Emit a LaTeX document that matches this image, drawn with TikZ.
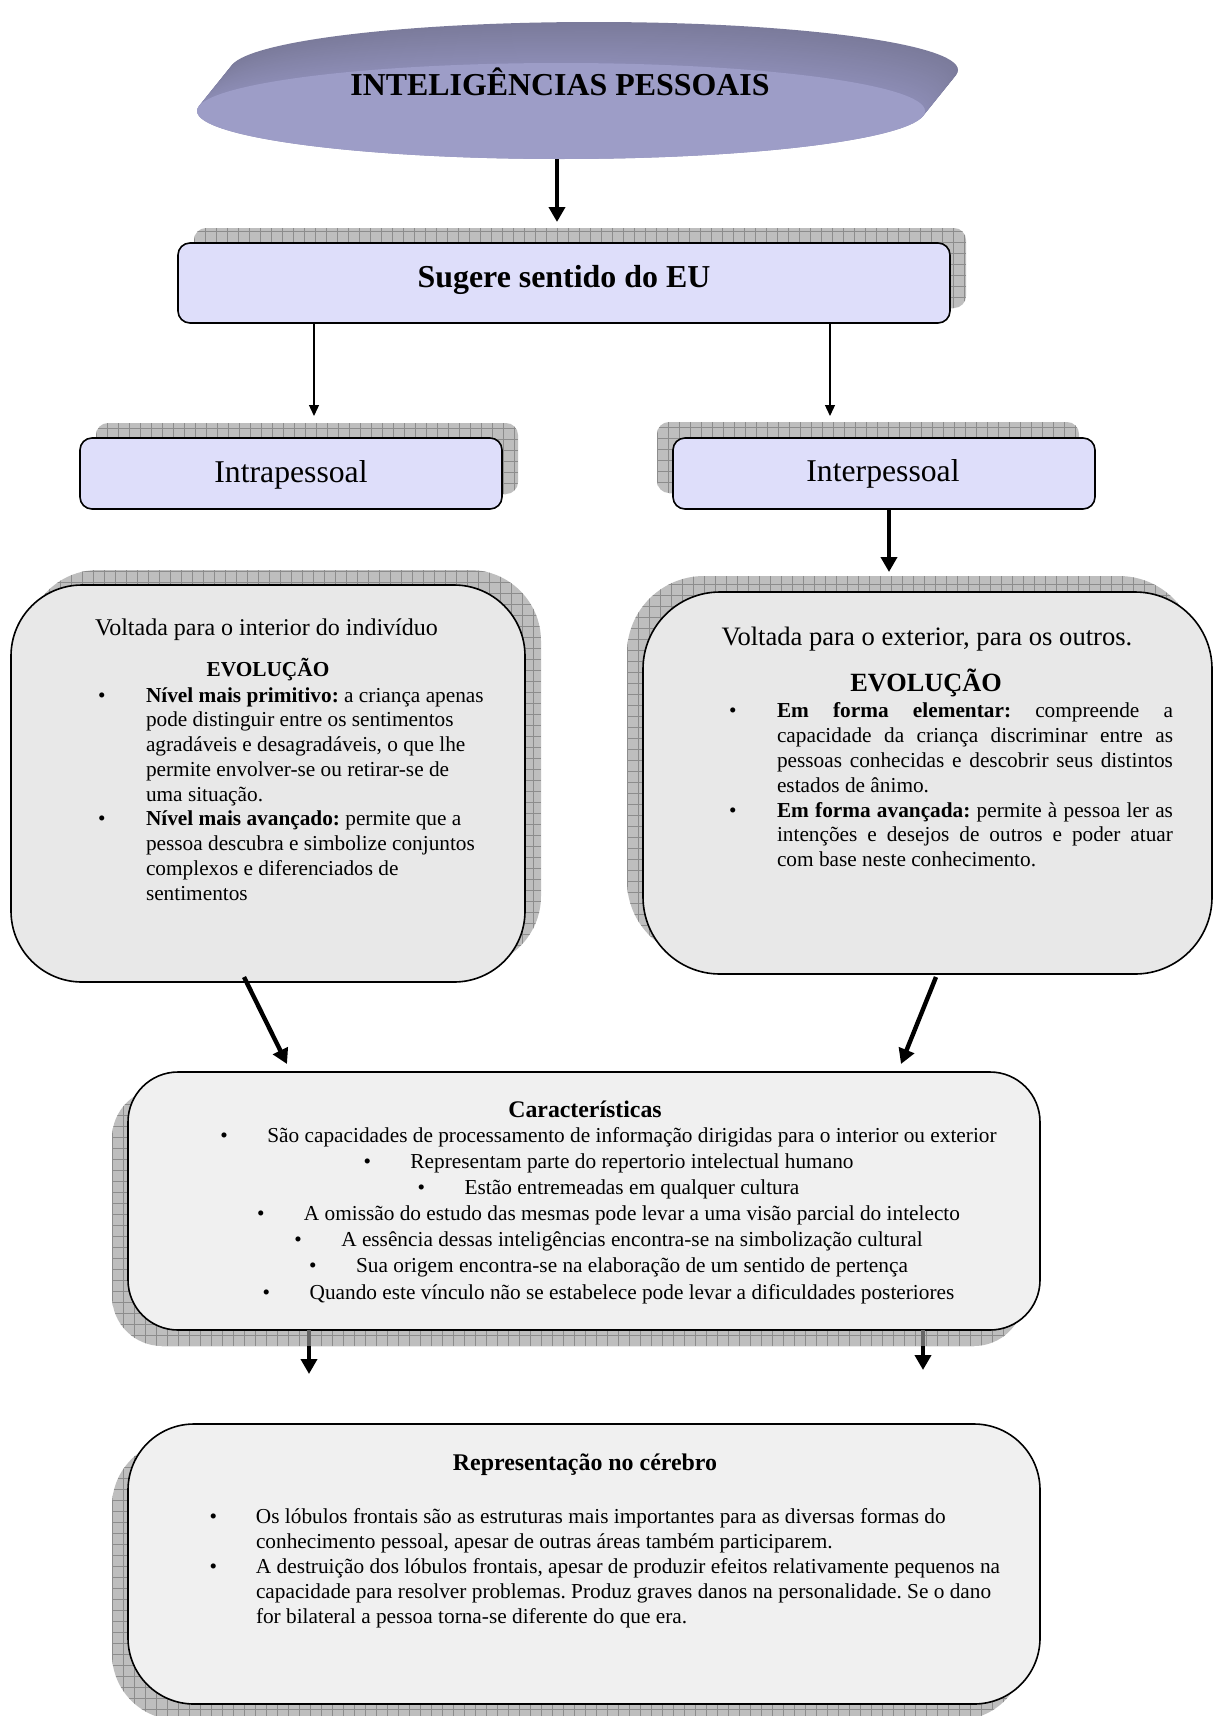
\documentclass[tikz,border=0pt]{standalone}
\usepackage{fontspec}
\setmainfont{Liberation Serif}
\usetikzlibrary{arrows.meta,shapes.geometric,calc}

\definecolor{lav}{HTML}{DEDEFA}
\definecolor{panelA}{HTML}{E8E8E8}
\definecolor{panelB}{HTML}{F0F0F0}
\definecolor{shadegray}{HTML}{BEBEBE}
\definecolor{shadeline}{HTML}{8C8C8C}
\definecolor{discface}{HTML}{9D9DC7}
\definecolor{discback}{HTML}{7B7B9B}
\definecolor{discside}{HTML}{8C8CB4}

\newcommand{\fs}[2]{\fontsize{#1}{#2}\selectfont}
\newcommand{\bul}[1]{\leavevmode\llap{\hbox to #1{\textbullet\hfil}}}
% plain interword spacing inside aligned nodes
\newcommand{\plainsp}{\spaceskip=0pt\xspaceskip=0pt\frenchspacing}
% centred lines whose word spaces keep their natural width
\newcommand{\fillcentre}{\leftskip=0pt plus 1fil\rightskip=0pt plus 1fil\parfillskip=0pt}

\tikzset{
  every node/.style={inner sep=0pt, outer sep=0pt},
  gridshadow/.style={fill=shadegray, draw=none,
    path picture={
      \foreach \k in {0,...,90}{
        \draw[shadeline, line width=0.8pt]
          ([xshift=\k*11pt]path picture bounding box.south west) --
          ([xshift=\k*11pt]path picture bounding box.north west);
      }
      \foreach \k in {0,...,40}{
        \draw[shadeline, line width=0.8pt]
          ([yshift=\k*11pt]path picture bounding box.south west) --
          ([yshift=\k*11pt]path picture bounding box.south east);
      }
    }},
  labelbox/.style={draw=black, line width=1.6pt, fill=lav, rounded corners=12pt},
  panel/.style={draw=black, line width=1.6pt},
  thickarrow/.style={line width=4.4pt, -{Triangle[length=15pt,width=16pt]}},
  thinarrow/.style={line width=1.3pt, -{Triangle[length=11pt,width=10pt]}},
}

\begin{document}
\frenchspacing
\begin{tikzpicture}[x=1pt, y=-1pt]
\fill[white] (0,0) rectangle (1215,1716);
\useasboundingbox (0,0) rectangle (1215,1716);

% ---- title disc: extruded rim, then the face ----
\foreach \t in {0,0.025,...,1.0}{
  \pgfmathsetmacro\pc{100*\t}
  \fill[discside!\pc!discback] ($(594,70)!\t!(561,111)$) ellipse [x radius=364pt, y radius=48pt];
}
\node[ellipse, fill=discface, minimum width=728pt, minimum height=96pt] (title) at (561,111) {};
\node[anchor=base, font={\fs{31.9}{38}\bfseries}] (titleT) at (560,95.5) {INTELIGÊNCIAS PESSOAIS};

% ---- shadows ----
\node[gridshadow, rounded corners=12pt, minimum width=772pt, minimum height=80pt] (sugS) at (580,268) {};
\node[gridshadow, rounded corners=12pt, minimum width=422pt, minimum height=71pt] (intraS) at (307,458.5) {};
\node[gridshadow, rounded corners=12pt, minimum width=422pt, minimum height=71pt] (interS) at (868,457.5) {};
\node[gridshadow, rounded corners=71pt, minimum width=514pt, minimum height=397pt] (lboxS) at (284,768.5) {};
\node[gridshadow, rounded corners=77pt, minimum width=569pt, minimum height=382pt] (rboxS) at (911.5,767) {};
\node[gridshadow, rounded corners=50pt, minimum width=912pt, minimum height=258pt] (cboxS) at (568,1217) {};
\node[gridshadow, rounded corners=66pt, minimum width=912pt, minimum height=280pt] (pboxS) at (568,1580) {};

% ---- boxes ----
\node[labelbox, minimum width=772pt, minimum height=80pt] (sug) at (564,283) {};
\node[labelbox, minimum width=422pt, minimum height=71pt] (intra) at (291,473.5) {};
\node[labelbox, minimum width=422pt, minimum height=71pt] (inter) at (884,473.5) {};
\node[panel, fill=panelA, rounded corners=71pt, minimum width=514pt, minimum height=397pt] (lbox) at (268,783.5) {};
\node[panel, fill=panelA, rounded corners=77pt, minimum width=569pt, minimum height=382pt] (rbox) at (927.5,783) {};
\node[panel, fill=panelB, rounded corners=50pt, minimum width=912pt, minimum height=258pt] (cbox) at (584,1201) {};
\node[panel, fill=panelB, rounded corners=66pt, minimum width=912pt, minimum height=280pt] (pbox) at (584,1564) {};

% ---- labels ----
\node[anchor=base, font={\fs{31.9}{38}\bfseries}] (sugT) at (564,287.5) {Sugere sentido do EU};
\node[anchor=base, font={\fs{31.7}{38}}] (intraT) at (291,482.5) {Intrapessoal};
\node[anchor=base, font={\fs{31.7}{38}}] (interT) at (883,481.5) {Interpessoal};

% left panel
\node[anchor=base west, font={\fs{24}{28}}] (lboxA) at (95,635) {Voltada para o interior do indivíduo};
\node[anchor=base, font={\fs{21.3}{25}\bfseries}] (lboxB) at (268,676) {EVOLUÇÃO};
\node[anchor=north west, text width=380pt, align=left, font={\fs{21.3}{24.75}}] (lboxL) at (146,684.7) {%
\plainsp\strut\bul{48pt}\textbf{Nível mais primitivo:} a criança apenas\\
pode distinguir entre os sentimentos\\
agradáveis e desagradáveis, o que lhe\\
permite envolver-se ou retirar-se de\\
uma situação.\\
\bul{48pt}\textbf{Nível mais avançado:} permite que a\\
pessoa descubra e simbolize conjuntos\\
complexos e diferenciados de\\
sentimentos\par};

% right panel
\node[anchor=base, font={\fs{26.6}{31}}] (rboxA) at (927,645) {Voltada para o exterior, para os outros.};
\node[anchor=base, font={\fs{26.3}{31}\bfseries}] (rboxB) at (926,691) {EVOLUÇÃO};
\node[anchor=north west, text width=400pt, align=left, font={\fs{21.3}{24.8}}] (rboxL) at (777,700.6) {%
\plainsp\strut\bul{48pt}\makebox[396pt][s]{\textbf{Em forma elementar:} compreende a}\\
\makebox[396pt][s]{capacidade da criança discriminar entre as}\\
\makebox[396pt][s]{pessoas conhecidas e descobrir seus distintos}\\
estados de ânimo.\\
\bul{48pt}\makebox[396pt][s]{\textbf{Em forma avançada:} permite à pessoa ler as}\\
\makebox[396pt][s]{intenções e desejos de outros e poder atuar}\\
com base neste conhecimento.\par};

% characteristics
\node[anchor=base, font={\fs{23.8}{28}\bfseries}] (cboxA) at (585,1117) {Características};
\node[anchor=north, text width=1000pt, align=center, font={\fs{21.3}{26.17}}] (cboxL) at (632,1123.7) {%
\plainsp\fillcentre\strut\bul{47pt}São capacidades de processamento de informação dirigidas para o interior ou exterior\\
\bul{47pt}Representam parte do repertorio intelectual humano\\
\bul{47pt}Estão entremeadas em qualquer cultura\\
\bul{47pt}A omissão do estudo das mesmas pode levar a uma visão parcial do intelecto\\
\bul{47pt}A essência dessas inteligências encontra-se na simbolização cultural\\
\bul{47pt}Sua origem encontra-se na elaboração de um sentido de pertença\\
\bul{47pt}Quando este vínculo não se estabelece pode levar a dificuldades posteriores\par};

% brain representation
\node[anchor=base, font={\fs{23.9}{28}\bfseries}] (pboxA) at (585,1470) {Representação no cérebro};
\node[anchor=north west, text width=800pt, align=left, font={\fs{21.3}{25.2}}] (pboxL) at (256,1505.4) {%
\plainsp\strut\bul{46.5pt}Os lóbulos frontais são as estruturas mais importantes para as diversas formas do\\
conhecimento pessoal, apesar de outras áreas também participarem.\\
\bul{46.5pt}A destruição dos lóbulos frontais, apesar de produzir efeitos relativamente pequenos na\\
capacidade para resolver problemas. Produz graves danos na personalidade. Se o dano\\
for bilateral a pessoa torna-se diferente do que era.\par};

% ---- connectors ----
\coordinate (c1) at (557,0);
\coordinate (c2) at (314,0);
\coordinate (c3) at (830,0);
\coordinate (c4) at (889,0);
\coordinate (c5a) at (244,0);
\coordinate (c5b) at (287,0);
\coordinate (c6a) at (936,0);
\coordinate (c6b) at (901,0);
\coordinate (c7a) at (309,0);
\coordinate (c7b) at (923,0);

\draw[thickarrow] (title.south -| c1) -- ($(sugS.north -| c1)+(0,-6)$);
\draw[thinarrow] (sug.south -| c2) -- ($(intraS.north -| c2)+(0,-7)$);
\draw[thinarrow] (sug.south -| c3) -- ($(interS.north -| c3)+(0,-6)$);
\draw[thickarrow] (inter.south -| c4) -- ($(rboxS.north -| c4)+(0,-4)$);
\draw[thickarrow] ($(lbox.south -| c5a)+(0,-5)$) -- ($(cbox.north -| c5b)+(0,-8)$);
\draw[thickarrow] ($(rbox.south -| c6a)+(0,3)$) -- ($(cbox.north -| c6b)+(0,-8)$);
\draw[thickarrow] (cbox.south -| c7a) -- ($(pbox.north -| c7a)+(0,-50)$);
\draw[thickarrow] (cbox.south -| c7b) -- ($(pbox.north -| c7b)+(0,-54)$);
% stems seen through the shadow
\draw[line width=4.4pt, black!60] (cbox.south -| c7a) -- (cboxS.south -| c7a);
\draw[line width=4.4pt, black!60] (cbox.south -| c7b) -- (cboxS.south -| c7b);
\end{tikzpicture}
\end{document}
